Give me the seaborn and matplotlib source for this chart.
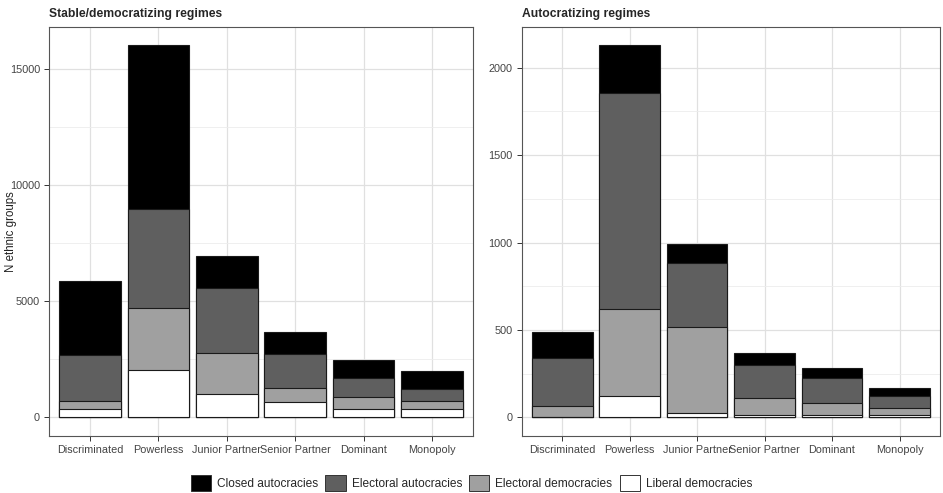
import numpy as np
import pandas as pd
import matplotlib
matplotlib.use('Agg')
import matplotlib.pyplot as plt
import seaborn as sns
from matplotlib.patches import Patch

categories = ['Discriminated', 'Powerless', 'Junior Partner', 'Senior Partner', 'Dominant', 'Monopoly']
regimes = ['Closed autocracies', 'Electoral autocracies', 'Electoral democracies', 'Liberal democracies']
colors = ['#000000', '#5f5f5f', '#a0a0a0', '#ffffff']

# stable/democratizing regimes
stable_closed = [3180, 7060, 1375, 960, 785, 790]
stable_elec_auto = [1990, 4250, 2820, 1450, 815, 515]
stable_elec_dem = [345, 2665, 1775, 615, 515, 330]
stable_liberal = [360, 2060, 990, 660, 360, 360]

# autocratizing regimes
auto_closed = [152, 275, 109, 71, 57, 47]
auto_elec_auto = [270, 1235, 370, 186, 148, 67]
auto_elec_dem = [63, 498, 490, 99, 65, 40]
auto_liberal = [5, 120, 25, 13, 15, 13]

sns.set_theme(style='whitegrid')
plt.rcParams['font.family'] = ['Liberation Sans', 'DejaVu Sans']

fig = plt.figure(figsize=(9.43, 4.93), dpi=100)
ax1 = fig.add_axes([0.052, 0.1156, 0.4496, 0.830])
ax2 = fig.add_axes([0.5532, 0.1156, 0.4436, 0.830])


def stacked(ax, series, title, yticks, minor):
    # build long table, stack bottom (liberal) to top (closed)
    df = pd.DataFrame({'category': categories})
    cum = np.zeros(len(categories))
    tops = []
    for name, vals in zip(regimes[::-1], series[::-1]):
        cum = cum + np.array(vals)
        tops.append((name, cum.copy()))
    # draw tallest first so the lower segments sit on top
    for name, top in tops[::-1]:
        df['value'] = top
        sns.barplot(data=df, x='category', y='value', order=categories, ax=ax,
                    color=colors[regimes.index(name)], width=0.9,
                    edgecolor='#1a1a1a', linewidth=0.8, saturation=1)
    ymax = tops[-1][1].max()
    ax.set_ylim(-0.05 * ymax, 1.05 * ymax)
    ax.set_xlim(-0.6, 5.6)
    ax.set_yticks(yticks)
    ax.set_yticks(minor, minor=True)
    ax.grid(True, which='major', color='#e0e0e0', linewidth=0.9)
    ax.grid(True, which='minor', axis='y', color='#ececec', linewidth=0.6)
    ax.set_axisbelow(True)
    for s in ax.spines.values():
        s.set_color('#555555')
        s.set_linewidth(0.8)
    ax.tick_params(axis='both', which='major', length=3.5, width=0.7, color='#333333',
                   labelsize=7.8, labelcolor='#444444', bottom=True, left=True, pad=3)
    ax.tick_params(which='minor', length=0)
    ax.set_xlabel('')
    ax.set_ylabel('')
    ax.set_title(title, loc='left', fontsize=8.7, fontweight='bold', pad=7)


stacked(ax1, [stable_closed, stable_elec_auto, stable_elec_dem, stable_liberal],
        'Stable/democratizing regimes', [0, 5000, 10000, 15000], [2500, 7500, 12500])
stacked(ax2, [auto_closed, auto_elec_auto, auto_elec_dem, auto_liberal],
        'Autocratizing regimes', [0, 500, 1000, 1500, 2000], [250, 750, 1250, 1750])

ax1.set_ylabel('N ethnic groups', fontsize=8.3, color='#222222')
ax1.yaxis.set_label_coords(-0.076, 0.5)

handles = [Patch(facecolor=c, edgecolor='#333333', linewidth=0.7) for c in colors]
fig.legend(handles, regimes, loc='lower center', bbox_to_anchor=(0.5, -0.018), ncol=4,
           frameon=False, fontsize=8.6, handlelength=1.7, handleheight=1.7,
           columnspacing=0.6, handletextpad=0.5)

fig.savefig('out.png', dpi=100)
